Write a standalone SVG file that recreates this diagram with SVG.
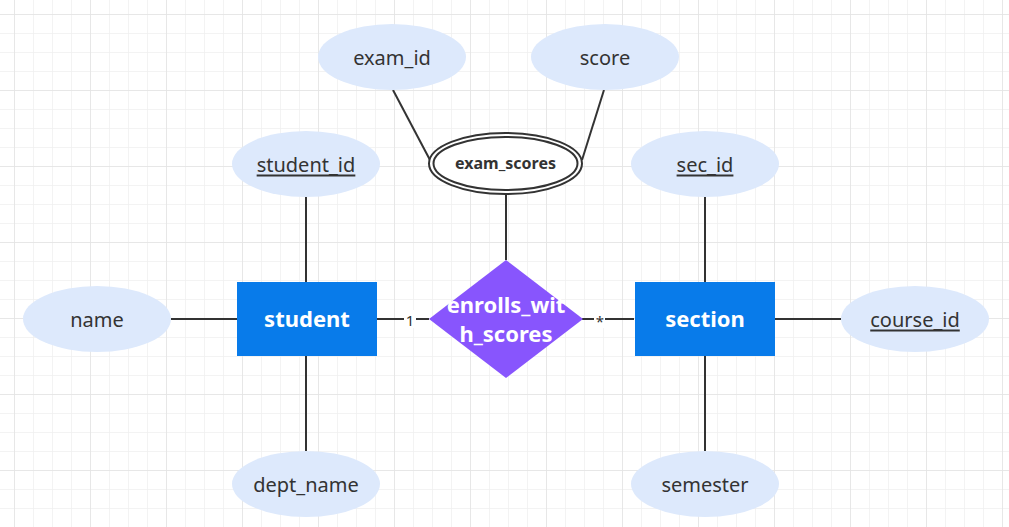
<svg xmlns="http://www.w3.org/2000/svg" width="1009" height="527" viewBox="0 0 1009 527">
<defs>
<pattern id="minor" x="14" y="14" width="19" height="19" patternUnits="userSpaceOnUse">
<path d="M0 0H19M0 0V19" fill="none" stroke="#efefef" stroke-width="1.5"/>
</pattern>
<pattern id="major" x="14" y="14" width="76" height="76" patternUnits="userSpaceOnUse">
<path d="M0 0H76M0 0V76" fill="none" stroke="#e4e4e4" stroke-width="1.5"/>
</pattern>
</defs>
<style>
.attr{fill:#dde9fc;stroke:none}
.at{font-family:"Noto Sans","Open Sans",sans-serif;font-size:20px;fill:#333;text-anchor:middle;dominant-baseline:central}
.key{text-decoration:underline}
.ent{fill:#087bea}
.et{font-family:"Noto Sans","Open Sans",sans-serif;font-size:22px;font-weight:bold;fill:#fff;text-anchor:middle;dominant-baseline:central}
.ln{stroke:#333;stroke-width:2;fill:none}
.lbl{font-family:"Noto Sans","Open Sans",sans-serif;font-size:15px;fill:#333;text-anchor:middle;dominant-baseline:central}
</style>
<rect width="1009" height="527" fill="#fff"/>
<rect width="1009" height="527" fill="url(#minor)"/>
<rect width="1009" height="527" fill="url(#major)"/>
<g id="connectors">
<line class="ln" x1="171" y1="319" x2="237" y2="319"/>
<line class="ln" x1="306" y1="197" x2="306" y2="282"/>
<line class="ln" x1="306" y1="356" x2="306" y2="451"/>
<line class="ln" x1="705" y1="197" x2="705" y2="282"/>
<line class="ln" x1="705" y1="356" x2="705" y2="451"/>
<line class="ln" x1="775" y1="319" x2="841" y2="319"/>
<line class="ln" x1="393" y1="90" x2="430" y2="160"/>
<line class="ln" x1="604" y1="90" x2="582" y2="160"/>
<line class="ln" x1="506" y1="194" x2="506" y2="260"/>
<line class="ln" x1="377" y1="319" x2="429" y2="319"/>
<line class="ln" x1="582" y1="319" x2="634" y2="319"/>
<rect x="404" y="310" width="12" height="18" fill="#fff"/>
<text class="lbl" x="410" y="320">1</text>
<rect x="594" y="310" width="11" height="18" fill="#fff"/>
<text class="lbl" x="600" y="321">*</text>
</g>
<g id="exam_id"><ellipse class="attr" cx="392" cy="57" rx="74" ry="33"/><text class="at" x="392" y="57">exam_id</text></g>
<g id="score"><ellipse class="attr" cx="605" cy="57" rx="74" ry="33"/><text class="at" x="605" y="57">score</text></g>
<g id="student_id"><ellipse class="attr" cx="306" cy="164" rx="74" ry="33"/><text class="at key" x="306" y="164">student_id</text></g>
<g id="sec_id"><ellipse class="attr" cx="705" cy="164" rx="74" ry="33"/><text class="at key" x="705" y="164">sec_id</text></g>
<g id="name"><ellipse class="attr" cx="97" cy="319" rx="74" ry="33"/><text class="at" x="97" y="319">name</text></g>
<g id="course_id"><ellipse class="attr" cx="915" cy="319" rx="74" ry="33"/><text class="at key" x="915" y="319">course_id</text></g>
<g id="dept_name"><ellipse class="attr" cx="306" cy="484" rx="74" ry="33"/><text class="at" x="306" y="484">dept_name</text></g>
<g id="semester"><ellipse class="attr" cx="705" cy="484" rx="74" ry="33"/><text class="at" x="705" y="484">semester</text></g>
<g id="exam_scores">
<ellipse cx="505.5" cy="163.5" rx="76.5" ry="30.5" fill="#fff" stroke="#333" stroke-width="2"/>
<ellipse cx="505.5" cy="163.5" rx="72" ry="26.5" fill="#fff" stroke="#333" stroke-width="2"/>
<text x="505.5" y="163" style="font-family:'Noto Sans','Open Sans',sans-serif;font-size:16px;font-weight:bold;fill:#333;text-anchor:middle;dominant-baseline:central">exam_scores</text>
</g>
<g id="student"><rect class="ent" x="237" y="282" width="140" height="74"/><text class="et" x="307" y="318">student</text></g>
<g id="section"><rect class="ent" x="635" y="282" width="140" height="74"/><text class="et" x="705" y="318">section</text></g>
<g id="enrolls_with_scores">
<polygon points="506,260 583,319 506,378 429,319" fill="#8855fd"/>
<text class="et" x="506" y="304">enrolls_wit</text>
<text class="et" x="506" y="333">h_scores</text>
</g>
</svg>
